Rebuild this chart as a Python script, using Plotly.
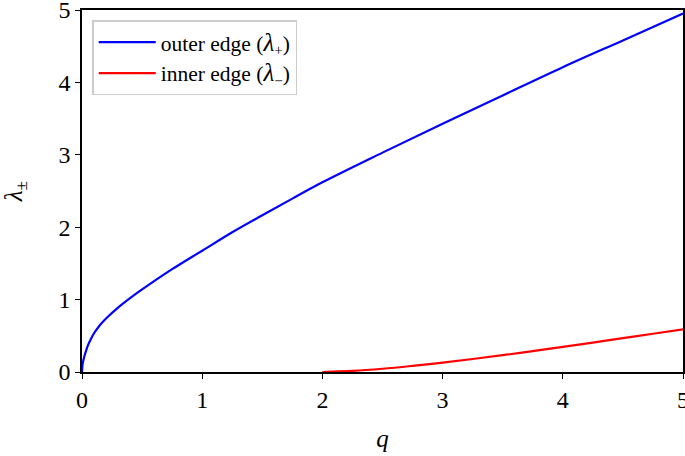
import plotly.graph_objects as go

# values
q_outer = [0.0, 0.005, 0.01, 0.02, 0.035, 0.05, 0.075, 0.1, 0.15, 0.2, 0.3, 0.4, 0.5,
           0.6, 0.75, 0.9, 1.0, 1.25, 1.5, 1.75, 2.0, 2.5, 3.0, 3.5, 4.0, 4.5, 5.0]
lam_outer = [0.0, 0.11, 0.15, 0.22, 0.30, 0.37, 0.46, 0.535, 0.65, 0.74, 0.89, 1.02, 1.14,
             1.255, 1.42, 1.575, 1.675, 1.93, 2.165, 2.395, 2.62, 3.03, 3.43, 3.82, 4.21, 4.58, 4.95]

q_inner = [2.0, 2.25, 2.5, 2.75, 3.0, 3.25, 3.5, 3.75, 4.0, 4.25, 4.5, 4.75, 5.0]
lam_inner = [0.0, 0.015, 0.045, 0.085, 0.13, 0.18, 0.232, 0.288, 0.347, 0.406, 0.467, 0.528, 0.59]

x_ticks = [0, 1, 2, 3, 4, 5]
y_ticks = [0, 1, 2, 3, 4, 5]

SERIF = "Liberation Serif, Times New Roman, serif"
LAM = '<span style="font-size:25px"><i>λ</i></span>'

fig = go.Figure()
fig.add_trace(
    go.Scatter(
        x=q_outer,
        y=lam_outer,
        mode="lines",
        line={"color": "#0000ff", "width": 2.2, "shape": "spline", "smoothing": 1},
        name=f"outer edge ({LAM}<sub>+</sub>)",
    )
)
fig.add_trace(
    go.Scatter(
        x=q_inner,
        y=lam_inner,
        mode="lines",
        line={"color": "#ff0000", "width": 2.2, "shape": "spline", "smoothing": 1},
        name=f"inner edge ({LAM}<sub>−</sub>)",
    )
)

axis_style = dict(
    showline=True,
    linecolor="black",
    linewidth=1.5,
    mirror=True,
    ticks="outside",
    ticklen=5,
    tickwidth=1.2,
    tickcolor="black",
    showgrid=False,
    zeroline=False,
    automargin=False,
    ticklabeloverflow="allow",
    tickfont={"family": SERIF, "size": 24, "color": "black"},
)

fig.update_xaxes(
    range=[0, 5],
    tickvals=x_ticks,
    title={"text": "<i>q</i>", "font": {"family": SERIF, "size": 25, "color": "black"}, "standoff": 18},
    **axis_style,
)
fig.update_yaxes(
    range=[0, 5],
    tickvals=y_ticks,
    title={"text": "<i>λ</i><sub>±</sub>", "font": {"family": SERIF, "size": 25, "color": "black"}, "standoff": 32},
    **axis_style,
)

fig.update_layout(
    width=685,
    height=456,
    margin={"l": 82, "r": 2, "t": 10, "b": 84},
    paper_bgcolor="white",
    plot_bgcolor="white",
    font={"family": SERIF, "color": "black"},
    legend={
        "x": 0.017,
        "y": 0.972,
        "xanchor": "left",
        "yanchor": "top",
        "bgcolor": "rgba(255,255,255,0.8)",
        "bordercolor": "#cccccc",
        "borderwidth": 1.5,
        "itemwidth": 57,
        "font": {"family": SERIF, "size": 21.5, "color": "black"},
        "tracegroupgap": 0,
    },
)

# drop the browser's default 8px body margin so the figure sits at the window corner
fig.write_html(
    "out.html",
    config={"displayModeBar": False},
    post_script="document.body.style.margin = '0';",
)
